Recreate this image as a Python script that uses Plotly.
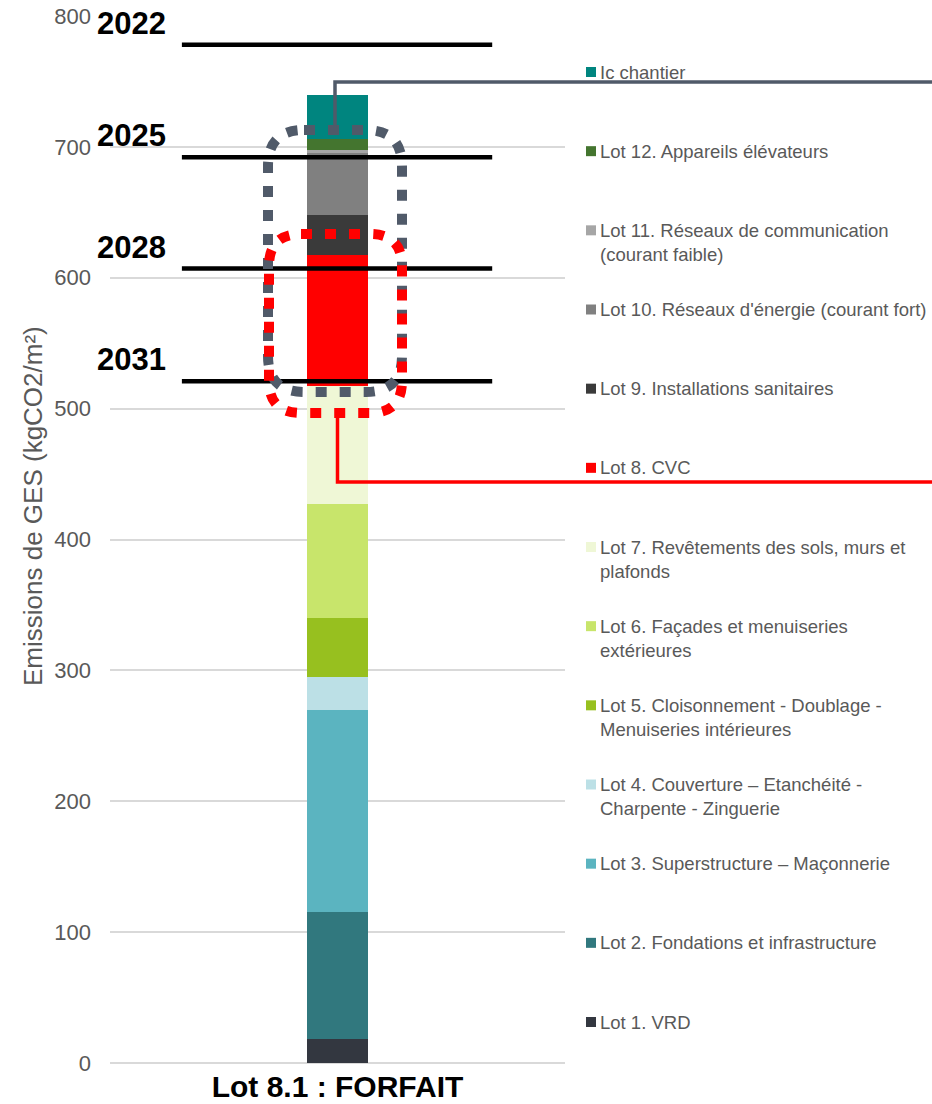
import plotly.graph_objects as go

# --- data -------------------------------------------------------------
category = "Lot 8.1 : FORFAIT"
y_title = "Emissions de GES (kgCO2/m²)"

lots = [
    "Lot 1. VRD",
    "Lot 2. Fondations et infrastructure",
    "Lot 3. Superstructure – Maçonnerie",
    "Lot 4. Couverture – Etanchéité - Charpente - Zinguerie",
    "Lot 5. Cloisonnement - Doublage - Menuiseries intérieures",
    "Lot 6. Façades et menuiseries extérieures",
    "Lot 7. Revêtements des sols, murs et plafonds",
    "Lot 8. CVC",
    "Lot 9. Installations sanitaires",
    "Lot 10. Réseaux d'énergie (courant fort)",
    "Lot 11. Réseaux de communication (courant faible)",
    "Lot 12. Appareils élévateurs",
    "Ic chantier",
]

legend_text = [
    "Lot 1. VRD",
    "Lot 2. Fondations et infrastructure",
    "Lot 3. Superstructure – Maçonnerie",
    "Lot 4. Couverture – Etanchéité -<br>Charpente - Zinguerie",
    "Lot 5. Cloisonnement - Doublage -<br>Menuiseries intérieures",
    "Lot 6. Façades et menuiseries<br>extérieures",
    "Lot 7. Revêtements des sols, murs et<br>plafonds",
    "Lot 8. CVC",
    "Lot 9. Installations sanitaires",
    "Lot 10. Réseaux d'énergie (courant fort)",
    "Lot 11. Réseaux de communication<br>(courant faible)",
    "Lot 12. Appareils élévateurs",
    "Ic chantier",
]

emissions = [18.3, 97.1, 154.3, 25.2, 45.1, 87.0, 90.4, 99.9, 30.5, 47.2, 2.5, 8.4, 33.6]

colors = [
    "#333740", "#31787E", "#5BB4C0", "#BCE0E6", "#97C01F", "#C8E56B", "#EFF7D6",
    "#FF0000", "#3A3A3A", "#808080", "#A6A6A6", "#44752F", "#00857F",
]

threshold_years = ["2022", "2025", "2028", "2031"]
threshold_values = [778, 692, 607, 521]

# --- layout geometry --------------------------------------------------
W, H = 932, 1104
ML, MR, MT, MB = 110, 367, 16, 41
PW, PH = W - ML - MR, H - MT - MB
Y_MAX = 800
BAR_W = 0.134
FONT = "Liberation Sans, Arial, sans-serif"
GREY_TXT = "#595959"


def fx(px):
    return (px - ML) / PW


def fy(px):
    return (H - MB - px) / PH


fig = go.Figure()

for name, val, col in zip(lots, emissions, colors):
    fig.add_trace(go.Bar(
        x=[0], y=[val], name=name, width=BAR_W,
        marker=dict(color=col, line=dict(width=0)),
        showlegend=False,
    ))

shapes = []
annotations = []

# threshold lines with year labels
for yr, val in zip(threshold_years, threshold_values):
    shapes.append(dict(type="line", xref="x", yref="y", x0=-0.342, x1=0.34,
                       y0=val, y1=val, line=dict(color="black", width=4.5)))
    annotations.append(dict(text=f"<b>{yr}</b>", xref="x", yref="y", x=-0.452, y=val,
                            xanchor="center", yanchor="bottom", yshift=2, showarrow=False,
                            font=dict(family=FONT, size=31, color="black")))


def rounded_box(x0, x1, y0, y1, rx, ry):
    return (f"M {x0+rx},{y1} L {x1-rx},{y1} Q {x1},{y1} {x1},{y1-ry} "
            f"L {x1},{y0+ry} Q {x1},{y0} {x1-rx},{y0} L {x0+rx},{y0} "
            f"Q {x0},{y0} {x0},{y0+ry} L {x0},{y1-ry} Q {x0},{y1} {x0+rx},{y1} Z")


# dotted outline around the building services lots (8 to Ic chantier)
shapes.append(dict(type="path", xref="paper", yref="paper",
                   path=rounded_box(fx(268), fx(402), fy(392), fy(130), 36 / PW, 36 / PH),
                   line=dict(color="#505A69", width=10, dash="11px,13px")))
# dotted outline around Lot 8 CVC
shapes.append(dict(type="path", xref="paper", yref="paper",
                   path=rounded_box(fx(269), fx(402), fy(413), fy(234), 32 / PW, 32 / PH),
                   line=dict(color="#FF0000", width=10, dash="11px,13px")))

# connector lines to the right edge
shapes.append(dict(type="path", xref="paper", yref="paper",
                   path=f"M {fx(335)},{fy(128)} L {fx(335)},{fy(82)} L {fx(940)},{fy(82)}",
                   line=dict(color="#505A69", width=3.5)))
shapes.append(dict(type="path", xref="paper", yref="paper",
                   path=f"M {fx(337.5)},{fy(413)} L {fx(337.5)},{fy(482)} L {fx(940)},{fy(482)}",
                   line=dict(color="#FF0000", width=3.5)))

# legend built from squares + text, top entry first
n = len(lots)
LEG_FS = 18.5
for i in range(n):
    idx = n - 1 - i
    cy = 72 + i * (1022 - 72) / (n - 1)
    shapes.append(dict(type="rect", xref="paper", yref="paper",
                       x0=fx(586), x1=fx(596), y0=fy(cy + 5), y1=fy(cy - 5),
                       fillcolor=colors[idx], line=dict(width=0)))
    annotations.append(dict(text=legend_text[idx], xref="paper", yref="paper",
                            x=fx(598), y=fy(cy - 0.62 * LEG_FS - 1),
                            xanchor="left", yanchor="top", align="left", showarrow=False,
                            font=dict(family=FONT, size=LEG_FS, color=GREY_TXT)))

# vertical axis title
annotations.append(dict(text=y_title, xref="paper", yref="paper", x=fx(33), y=fy(506),
                        xanchor="center", yanchor="middle", textangle=-90, showarrow=False,
                        font=dict(family=FONT, size=26, color=GREY_TXT)))

fig.update_layout(
    width=W, height=H,
    margin=dict(l=ML, r=MR, t=MT, b=MB, autoexpand=False),
    paper_bgcolor="white", plot_bgcolor="white",
    barmode="stack", bargap=0,
    shapes=shapes, annotations=annotations,
    font=dict(family=FONT, color=GREY_TXT),
    xaxis=dict(range=[-0.5, 0.5], tickmode="array", tickvals=[0],
               ticktext=[f"<b>{category}</b>"], showgrid=False, zeroline=False,
               showline=False, ticks="", ticklabelstandoff=3,
               tickfont=dict(family=FONT, size=30, color="black"), fixedrange=True),
    yaxis=dict(range=[0, Y_MAX], dtick=100, showgrid=True, gridcolor="#D9D9D9",
               gridwidth=1.5, zeroline=True, zerolinecolor="#D9D9D9", zerolinewidth=1.5,
               showline=False, ticks="", ticklabelstandoff=18,
               tickfont=dict(family=FONT, size=22, color=GREY_TXT),
               automargin=False),
)

fig.write_html("out.html")
